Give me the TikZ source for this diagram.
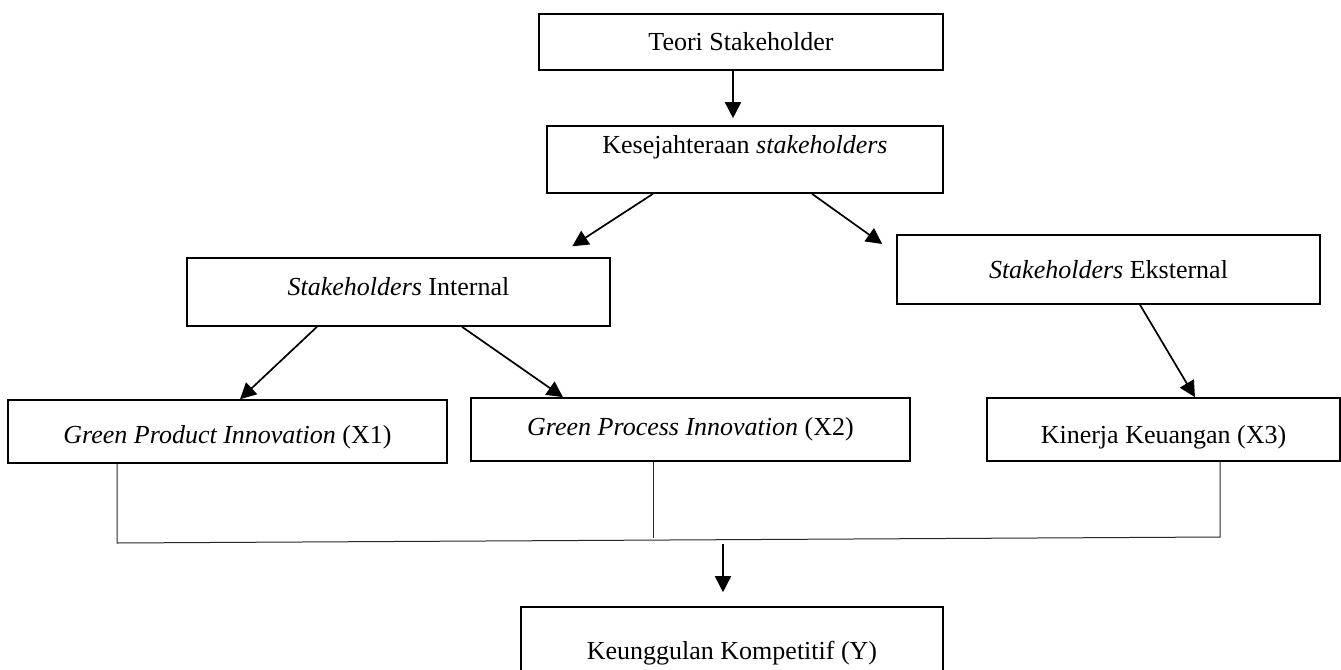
\documentclass[tikz,border=0pt]{standalone}
\usepackage{fontspec}
\setmainfont{Liberation Serif}
\usetikzlibrary{arrows.meta}

\tikzset{
  box/.style={draw,rectangle,line width=0.8pt,inner sep=0pt,font=\fontsize{13}{15}\selectfont},
  arr/.style={line width=0.85pt,-{Triangle[length=8pt,width=8pt]}},
  joinline/.style={line width=0.5pt,draw=black!85}
}

\begin{document}
\begin{tikzpicture}[x=0.5pt,y=-0.5pt]
	\useasboundingbox (0,0) rectangle (1341,670);
	\coordinate (teori_c) at (741,42);
	\coordinate (kes_c) at (745,159.5);
	\coordinate (int_c) at (398.5,292);
	\coordinate (ext_c) at (1108.5,269.5);
	\coordinate (x1_c) at (227.5,431.5);
	\coordinate (x2_c) at (690.5,429.5);
	\coordinate (x3_c) at (1163.5,429.5);
	\coordinate (y_c) at (732,653);
	% merge line
	\coordinate (join_l) at (117,543);
	\coordinate (join_m) at (653,538);
	\coordinate (join_r) at (1220,537);
	\coordinate (join_o) at (723,544);

	\node[box,line width=0.55pt,minimum width=202pt,minimum height=28pt] (teori) at (teori_c) {Teori Stakeholder};
	\node[box,minimum width=198pt,minimum height=33.5pt,text height=8.9pt,text depth=15pt] (kes) at (kes_c) {Kesejahteraan \textit{stakeholders}};
	\node[box,minimum width=211.5pt,minimum height=34pt,text height=8.9pt,text depth=5.5pt] (int) at (int_c) {\textit{Stakeholders} Internal};
	\node[box,minimum width=211.5pt,minimum height=34.5pt] (ext) at (ext_c) {\textit{Stakeholders} Eksternal};
	\node[box,minimum width=219.5pt,minimum height=31.5pt,text height=15pt,text depth=2.9pt] (x1) at (x1_c) {\textit{Green Product Innovation} (X1)};
	\node[box,minimum width=219.5pt,minimum height=31.5pt] (x2) at (x2_c) {\textit{Green Process Innovation} (X2)};
	\node[box,minimum width=176.5pt,minimum height=31.5pt,text height=17pt,text depth=2.9pt] (x3) at (x3_c) {Kinerja Keuangan (X3)};
	\node[box,minimum width=211pt,minimum height=46pt] (y) at (y_c) {Keunggulan Kompetitif (Y)};

	\draw[arr,shorten >=3.5pt] ([xshift=-4pt]teori.south) -- ([xshift=-6pt]kes.north);
	\draw[arr,shorten >=10pt] ([xshift=-46pt]kes.south) -- ([xshift=78.5pt]int.north);
	\draw[arr,shorten >=8.6pt] ([xshift=33.5pt]kes.south) -- ([yshift=7.75pt]ext.west);
	\draw[arr] ([xshift=-40.75pt]int.south) -- ([xshift=6.25pt]x1.north);
	\draw[arr] ([xshift=31.75pt]int.south) -- ([xshift=-63.75pt]x2.north);
	\draw[arr] ([xshift=15.75pt]ext.south) -- ([xshift=15.75pt]x3.north);

	\draw[joinline] ([xshift=-55.25pt]x1.south) -- (join_l) -- (join_r) -- ([xshift=28.25pt]x3.south);
	\draw[joinline] ([xshift=-18.75pt]x2.south) -- (join_m);
	\draw[arr,shorten >=7pt] (join_o) -- ([xshift=-4.5pt]y.north);
\end{tikzpicture}
\end{document}
